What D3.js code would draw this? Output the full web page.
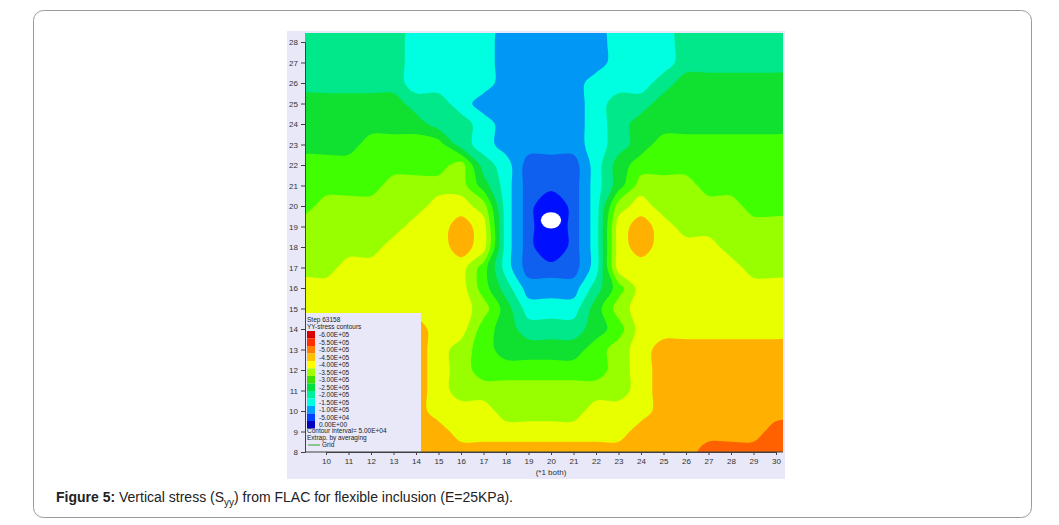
<!DOCTYPE html>
<html><head><meta charset="utf-8">
<script src="https://cdn.jsdelivr.net/npm/d3@7"></script>
<style>
body{margin:0;background:#fff;font-family:"Liberation Sans",Arial,sans-serif;}
</style></head>
<body><div id="chart"></div>
<script>
// Field: one string per row (y = 29 down to 7), one char per x = 9..31
// chars are contour bands of |Syy| in 1E5 units
var bandCodes = "abcdefghijk",
    bandValues = [0.3, 1.25, 1.75, 2.25, 2.75, 3.25, 3.75, 4.25, 4.75, 5.25, 5.75];
var gridX0 = 9, gridY0 = 29;
var rows = [
  "eeeeeddddcccccdddeeeeee", // 29
  "eeeeeddddcccccdddeeeeee", // 28
  "eeeeeddddcccccdddeeeeee", // 27
  "eeeeeddddccccdddeffffff", // 26
  "fffffeedcccccdeefffffff", // 25
  "ffffffeedccccdeffffffff", // 24
  "fffggggedccccdefggggggg", // 23
  "ggggggghedbbbdfgggggggg", // 22
  "gggghhhhfdbbbdfhhhggggg", // 21
  "ghhhhhiihdbabdhihhhhggg", // 20
  "hhhhhiijidbabdijihhhhhh", // 19
  "hhhhiiijidbabdijiiihhhh", // 18
  "hhiiiiiigdbbbdiiiiiihhh", // 17
  "iiiiiiiigecccegiiiiiiii", // 16
  "iiiiiiiihfdddfhiiiiiiii", // 15
  "jjjjjjiigfeeefgiiiiiiii", // 14
  "jjjjjjihgffffghijjjjjjj", // 13
  "jjjjjjihgggggghijjjjjjj", // 12
  "jjjjjjihhhhhhhhijjjjjjj", // 11
  "jjjjjjiiihhhhiiijjjjjjj", // 10
  "jjjjjjjiiiiiiiijjjjjjkk", // 9
  "jjjjjjjjjjjjjjjjjjkkkkk", // 8
  "jjjjjjjjjjjjjjjjjjkkkkk"  // 7
];
var thresholds = [0.5, 1, 1.5, 2, 2.5, 3, 3.5, 4, 4.5, 5, 5.5];
var fillColors = ["#0010ff", "#1060f0", "#0098f4", "#00ffe0", "#00e88a", "#10e030", "#40ff00", "#98ff00", "#e8ff00", "#ffb000", "#ff6000"];
var hole = {x: 20.0, y: 19.3, rx: 0.45, ry: 0.4};
var xTicks = d3.range(10, 31), yTicks = d3.range(8, 29);
var legendLabels = ["-6.00E+05","-5.50E+05","-5.00E+05","-4.50E+05","-4.00E+05","-3.50E+05","-3.00E+05","-2.50E+05","-2.00E+05","-1.50E+05","-1.00E+05","-5.00E+04","0.00E+00"];
var legendColors = ["#d80000","#ff3000","#ff8000","#ffc000","#ffff00","#a0ff00","#40e000","#00e040","#00f0a0","#00ffe0","#00a0ff","#0040ff","#0000c0"];

var W = 1059, H = 525;
var svg = d3.select("#chart").append("svg").attr("width", W).attr("height", H);

// outer frame
svg.append("rect").attr("x", 33.5).attr("y", 10.5).attr("width", 998).attr("height", 507)
    .attr("rx", 10).attr("fill", "#fff").attr("stroke", "#9a9a9a");
// figure background
svg.append("rect").attr("x", 287).attr("y", 31).attr("width", 498).attr("height", 448).attr("fill", "#e8e8f8");

var plot = {left: 305, right: 783, top: 33, bottom: 452};
var x = d3.scaleLinear().domain([10, 30]).range([326, 776]);
var y = d3.scaleLinear().domain([8, 28]).range([452, 42]);

svg.append("clipPath").attr("id", "clip").append("rect")
    .attr("x", plot.left).attr("y", plot.top).attr("width", plot.right - plot.left).attr("height", plot.bottom - plot.top);

var nx = rows[0].length, ny = rows.length;
var values = [];
rows.forEach(function(r) { for (var i = 0; i < r.length; i++) values.push(bandValues[bandCodes.indexOf(r[i])]); });

var contours = d3.contours().size([nx, ny]).thresholds(thresholds)(values);

// smooth the marching-squares rings with a closed Catmull-Rom curve
var ringLine = d3.line()
    .x(function(p) { return x(gridX0 + p[0] - 0.5); })
    .y(function(p) { return y(gridY0 - (p[1] - 0.5)); })
    .curve(d3.curveCatmullRomClosed.alpha(0.5));
function bandPath(mp) {
    return mp.coordinates.map(function(poly) {
        return poly.map(function(ring) { return ringLine(ring.slice(0, -1)); }).join("");
    }).join("");
}

var g = svg.append("g").attr("clip-path", "url(#clip)");
g.append("rect").attr("x", plot.left).attr("y", plot.top).attr("width", plot.right - plot.left)
    .attr("height", plot.bottom - plot.top).attr("fill", fillColors[0]);
g.selectAll("path.band").data(contours).enter().append("path")
    .attr("class", "band").attr("d", bandPath).attr("fill-rule", "evenodd")
    .attr("fill", function(d, i) { return fillColors[i]; });
g.append("ellipse").attr("cx", x(hole.x)).attr("cy", y(hole.y))
    .attr("rx", x(hole.x + hole.rx) - x(hole.x)).attr("ry", y(hole.y) - y(hole.y + hole.ry)).attr("fill", "#fff");

// legend box
var lg = svg.append("g");
lg.append("rect").attr("x", plot.left).attr("y", 313).attr("width", 116).attr("height", plot.bottom - 313).attr("fill", "#e8e8f8");
lg.append("text").attr("x", 307).attr("y", 322).attr("font-size", 6.5).attr("fill", "#222").text("Step 63158");
lg.append("text").attr("x", 307).attr("y", 329).attr("font-size", 6.5).attr("fill", "#222").text("YY-stress contours");
legendLabels.forEach(function(l, i) {
    lg.append("rect").attr("x", 307).attr("y", 331 + i * 7.5).attr("width", 8).attr("height", 7.5).attr("fill", legendColors[i]);
    lg.append("text").attr("x", 319).attr("y", 337 + i * 7.5).attr("font-size", 6.5).attr("fill", "#222").text(l);
});
lg.append("text").attr("x", 307).attr("y", 433).attr("font-size", 6.5).attr("fill", "#222").text("Contour interval= 5.00E+04");
lg.append("text").attr("x", 307).attr("y", 440).attr("font-size", 6.5).attr("fill", "#222").text("Extrap. by averaging");
lg.append("line").attr("x1", 308).attr("x2", 320).attr("y1", 445).attr("y2", 445).attr("stroke", "#30a030");
lg.append("text").attr("x", 322).attr("y", 447).attr("font-size", 6.5).attr("fill", "#222").text("Grid");

// axes
var yAxis = svg.append("g").attr("transform", "translate(" + plot.left + ",0)")
    .call(d3.axisLeft(y).tickValues(yTicks).tickSize(4).tickFormat(d3.format("d")));
var xAxis = svg.append("g").attr("transform", "translate(0," + plot.bottom + ")")
    .call(d3.axisBottom(x).tickValues(xTicks).tickSize(3).tickFormat(d3.format("d")));
[yAxis, xAxis].forEach(function(a) {
    a.select(".domain").attr("stroke", "#404040");
    a.selectAll(".tick line").attr("stroke", "#404040");
    a.selectAll("text").attr("font-size", 8).attr("fill", "#333");
});
svg.append("line").attr("x1", plot.left).attr("x2", plot.right).attr("y1", plot.bottom).attr("y2", plot.bottom).attr("stroke", "#404040");
svg.append("text").attr("x", x(20)).attr("y", 475).attr("text-anchor", "middle").attr("font-size", 8).attr("fill", "#333").text("(*1 both)");

// caption
var cap = svg.append("text").attr("x", 56).attr("y", 502).attr("font-size", 14).attr("fill", "#222");
cap.append("tspan").attr("font-weight", "bold").text("Figure 5:");
cap.append("tspan").text(" Vertical stress (S");
cap.append("tspan").attr("font-size", 10).attr("dy", 4).text("yy");
cap.append("tspan").attr("dy", -4).text(") from FLAC for flexible inclusion (E=25KPa).");
</script>
</body></html>
